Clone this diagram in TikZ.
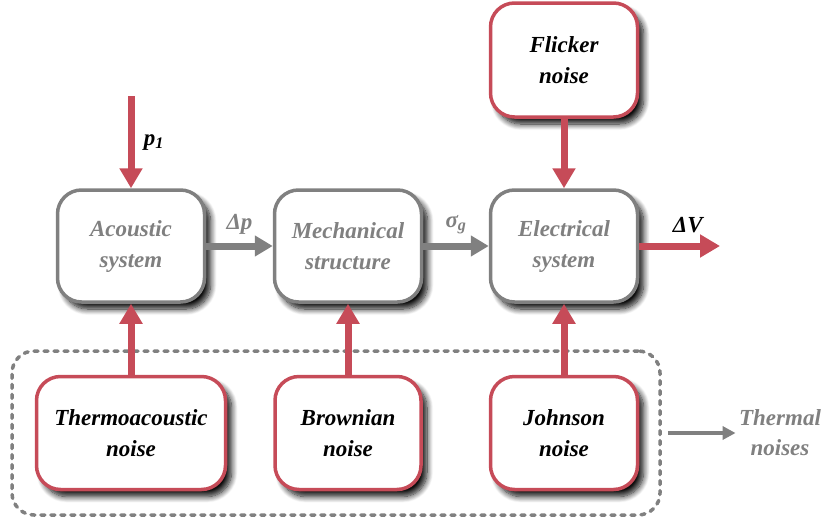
\documentclass[tikz,border=0pt]{standalone}
\usepackage{fontspec}
\setmainfont{Liberation Serif}
\newfontfamily\tnr{Liberation Serif}
\usetikzlibrary{arrows.meta,shadows.blur}
\definecolor{nred}{HTML}{C64B58}
\definecolor{ngray}{HTML}{808080}
\tikzset{
  sysbox/.style={draw=ngray, line width=3.5pt, fill=white, rounded corners=24pt,
    minimum width=147pt, minimum height=112pt, align=center, text=ngray,
    font=\tnr\fontsize{23}{31}\selectfont\bfseries\itshape,
    blur shadow={shadow xshift=6pt, shadow yshift=-7pt, shadow blur steps=10, shadow blur radius=6pt, shadow opacity=95}},
  noisebox/.style={sysbox, draw=nred, text=black},
  garrow/.style={draw=ngray, line width=7pt, -{Triangle[length=18pt,width=20pt]}},
  rarrow/.style={draw=nred, line width=7pt, -{Triangle[length=20pt,width=22pt]}},
  lbl/.style={font=\tnr\fontsize{23}{30}\selectfont\bfseries\itshape},
}
\begin{document}
\begin{tikzpicture}[x=1pt,y=-1pt]
\useasboundingbox (0,0) rectangle (824,525);
% dashed group
\node[draw=ngray, line width=3.5pt, line cap=round, dash pattern=on 4pt off 6pt, rounded corners=22pt,
  minimum width=648pt, minimum height=164pt] (grp) at (336,433) {};
% system boxes
\node[sysbox] (ac) at (131,246) {Acoustic\\system};
\node[sysbox] (me) at (348,246) {Mechanical\\structure};
\node[sysbox] (el) at (564,246) {Electrical\\system};
% noise boxes
\node[noisebox, minimum height=114pt] (fl) at (564,60) {Flicker\\noise};
\node[noisebox, minimum width=189pt, minimum height=113pt] (th) at (131,433) {Thermoacoustic\\noise};
\node[noisebox, minimum width=146pt, minimum height=113pt] (br) at (348,433) {Brownian\\noise};
\node[noisebox, minimum height=113pt] (jo) at (564,433) {Johnson\\noise};
% inputs
\coordinate (pin) at (131,96);
\draw[rarrow] (pin) -- (ac.north) node[lbl, midway, right=6pt, text=black] {p\textsubscript{1}};
\draw[garrow] (ac.east) -- (me.west) node[lbl, midway, above=5pt, text=ngray] {Δp};
\draw[garrow] (me.east) -- (el.west) node[lbl, midway, above=5pt, text=ngray] {σ\textsubscript{g}};
\coordinate (vout) at (720,246);
\draw[rarrow] (el.east) -- (vout) node[lbl, pos=0.6, above=6pt, text=black] {ΔV};
\draw[rarrow] (fl.south) -- (el.north);
\draw[rarrow] (th.north) -- (ac.south);
\draw[rarrow] (br.north) -- (me.south);
\draw[rarrow] (jo.north) -- (el.south);
% thermal noises
\node[lbl, text=ngray, align=center] (tn) at (780,433) {Thermal\\noises};
\draw[draw=ngray, line width=4pt, -{Triangle[length=13pt,width=13pt]}] (grp.east) ++(6,0) -- (tn.west);
\end{tikzpicture}
\end{document}
